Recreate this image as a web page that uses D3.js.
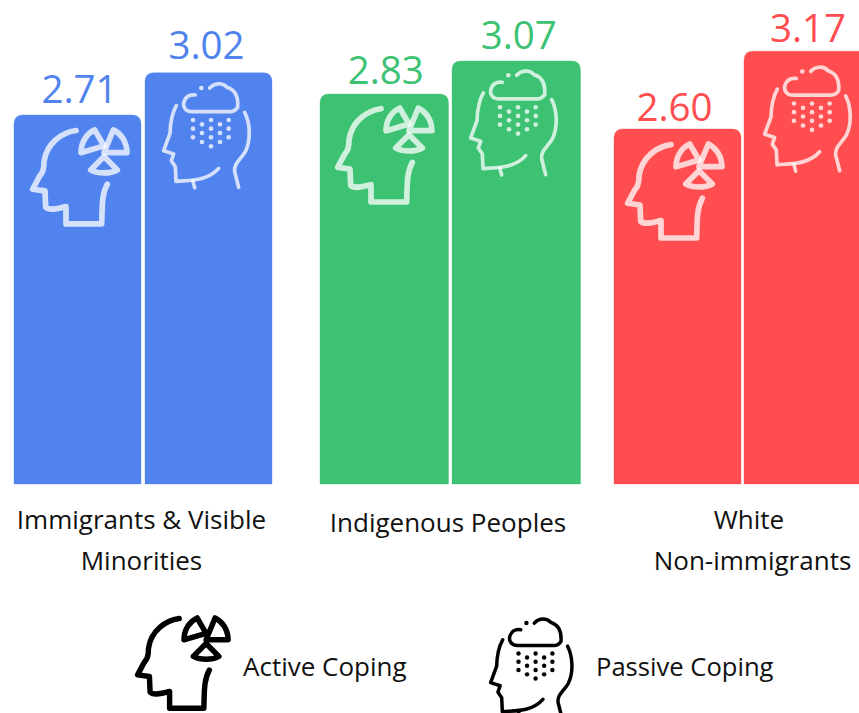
<!DOCTYPE html>
<html><head><meta charset="utf-8">
<script src="https://cdn.jsdelivr.net/npm/d3@7"></script>
<style>html,body{margin:0;padding:0;background:#fff;overflow:hidden}svg{display:block}text{font-family:"Open Sans",sans-serif}</style>
</head><body><svg id="c" width="859" height="713"></svg>
<script>
const groups = ["Immigrants & Visible Minorities", "Indigenous Peoples", "White Non-immigrants"];
const groupLabels = [["Immigrants & Visible", "Minorities"], ["Indigenous Peoples"], ["White", "Non-immigrants"]];
const series = ["Active Coping", "Passive Coping"];
const activeValues = [2.71, 2.83, 2.60];
const passiveValues = [3.02, 3.07, 3.17];
const colors = ["#5183EF", "#3DC274", "#FF4D50"];

const width = 859, height = 713, baseline = 484;
const svg = d3.select("#c");
const xGroup = d3.scaleOrdinal().domain(groups).range([14, 320, 614]);
const groupLabelX = d3.scaleOrdinal().domain(groups).range([141.5, 448, 752.5]);
const groupLabelY = d3.scaleOrdinal().domain(groups).range([529, 532, 529]);
const firstLineShift = d3.scaleOrdinal().domain(groups).range([0, 0, -3.5]);
const barW = d3.scaleOrdinal().domain(groups).range([127, 128.5, 127]);
const barGap = d3.scaleOrdinal().domain(groups).range([131, 132, 130]);
// each panel was drawn at a slightly different vertical scale in the source
const yTop = d3.scaleOrdinal().domain(groups).range([136.2, 137.8, 136.55]);
const y = g => d3.scaleLinear().domain([0, 1]).range([baseline, baseline - yTop(g)]);

const topRounded = (x, y0, w, y1, r) =>
  `M${x},${y1}V${y0 + r}Q${x},${y0} ${x + r},${y0}H${x + w - r}Q${x + w},${y0} ${x + w},${y0 + r}V${y1}Z`;

const activePaths = [
  "M228,392C185,398 140,430 132,485C132,510 128,518 118,530L98,568L135,573L137,622C150,634 175,625 198,620L198,672L305,672C307,625 304,585 322,553",
  "M245,458L243,458C243,425 262,400 284,390L312,438Z",
  "M340,390C362,400 380,425 381,458L312,458Z",
  "M272,510L312,470L352,510C330,522 295,522 272,510Z"
];
const passivePaths = [
  "M628,264C640,250 665,245 680,262C700,268 715,285 712,322C705,332 700,335 690,335H575C555,335 545,318 552,302C558,288 570,283 585,285",
  "M528,317C515,340 510,365 509,400L490,452L520,462L513,482L525,500L527,544C565,540 620,545 655,505",
  "M733,337C750,370 752,420 735,455C720,480 700,490 703,515L715,562",
  "M578,544L583,563"
];
const passiveDots = [
  [578,360],[632,360],[685,360],[605,373],[659,373],
  [578,386],[632,386],[685,386],[605,399],[659,399],
  [578,412],[632,412],[685,412],[605,426],[659,426],[632,439],[603,264]
];

function activeIcon(sel, px, py, k, color, opacity) {
  const g = sel.append("g").attr("transform", `translate(${px - 93 * k / 3},${py - 384 * k / 3}) scale(${k / 3})`)
    .attr("fill", "none").attr("stroke", color).attr("stroke-opacity", opacity)
    .attr("stroke-width", 17).attr("stroke-linecap", "round").attr("stroke-linejoin", "round");
  g.selectAll("path").data(activePaths).join("path").attr("d", d => d);
}
function passiveIcon(sel, px, py, k, color, opacity) {
  const g = sel.append("g").attr("transform", `translate(${px - 488 * k / 3},${py - 248 * k / 3}) scale(${k / 3})`)
    .attr("fill", "none").attr("stroke", color).attr("stroke-opacity", opacity)
    .attr("stroke-width", 11).attr("stroke-linecap", "round").attr("stroke-linejoin", "round");
  g.selectAll("path").data(passivePaths).join("path").attr("d", d => d);
  g.selectAll("circle").data(passiveDots).join("circle")
    .attr("cx", d => d[0]).attr("cy", d => d[1]).attr("r", 7)
    .attr("fill", color).attr("fill-opacity", opacity).attr("stroke", "none");
}

const activeOffsets = [[17, 13], [16, 12], [12, 13]];
const passiveOffsets = [[18, 10], [18, 9], [20, 15]];
// value label placement relative to each bar: [dx from centre, gap above top]
const activeLabelOffsets = [[2, 12], [1.5, 10], [-3, 8]];
const passiveLabelOffsets = [[-2, 14], [2.5, 12], [0.5, 9]];

groups.forEach((g, i) => {
  const yy = y(g), x0 = xGroup(g), w = barW(g), c = colors[i];
  [activeValues[i], passiveValues[i]].forEach((v, s) => {
    const bx = x0 + s * barGap(g), top = yy(v);
    svg.append("path").attr("d", topRounded(bx, top, w, baseline, 9)).attr("fill", c)
      .attr("stroke", c).attr("stroke-opacity", 0.35).attr("stroke-width", 1);
    const lo = (s ? passiveLabelOffsets : activeLabelOffsets)[i];
    svg.append("text").attr("x", bx + w / 2 + lo[0]).attr("y", top - lo[1])
      .attr("text-anchor", "middle").attr("font-size", 38.5).attr("fill", c).text(v.toFixed(2));
    const off = (s ? passiveOffsets : activeOffsets)[i];
    (s ? passiveIcon : activeIcon)(svg, bx + off[0], top + off[1], 1, "#fff", 0.76);
  });
  const t = svg.append("text").attr("text-anchor", "middle").attr("font-size", 26).attr("fill", "#111");
  groupLabels[i].forEach((l, j) => t.append("tspan")
    .attr("x", groupLabelX(g) + (j === 0 ? firstLineShift(g) : 0))
    .attr("y", groupLabelY(g) + j * 41).text(l));
});

// Legend
activeIcon(svg, 136, 616, 0.96, "#000", 1);
passiveIcon(svg, 490, 618, 0.95, "#000", 1);
const legendX = d3.scaleOrdinal().domain(series).range([243, 596]);
const legendSize = d3.scaleOrdinal().domain(series).range([26, 25.6]);
svg.selectAll("text.legend").data(series).join("text").attr("class", "legend")
  .attr("x", d => legendX(d)).attr("y", 676).attr("font-size", d => legendSize(d)).attr("fill", "#111").text(d => d);
</script></body></html>
